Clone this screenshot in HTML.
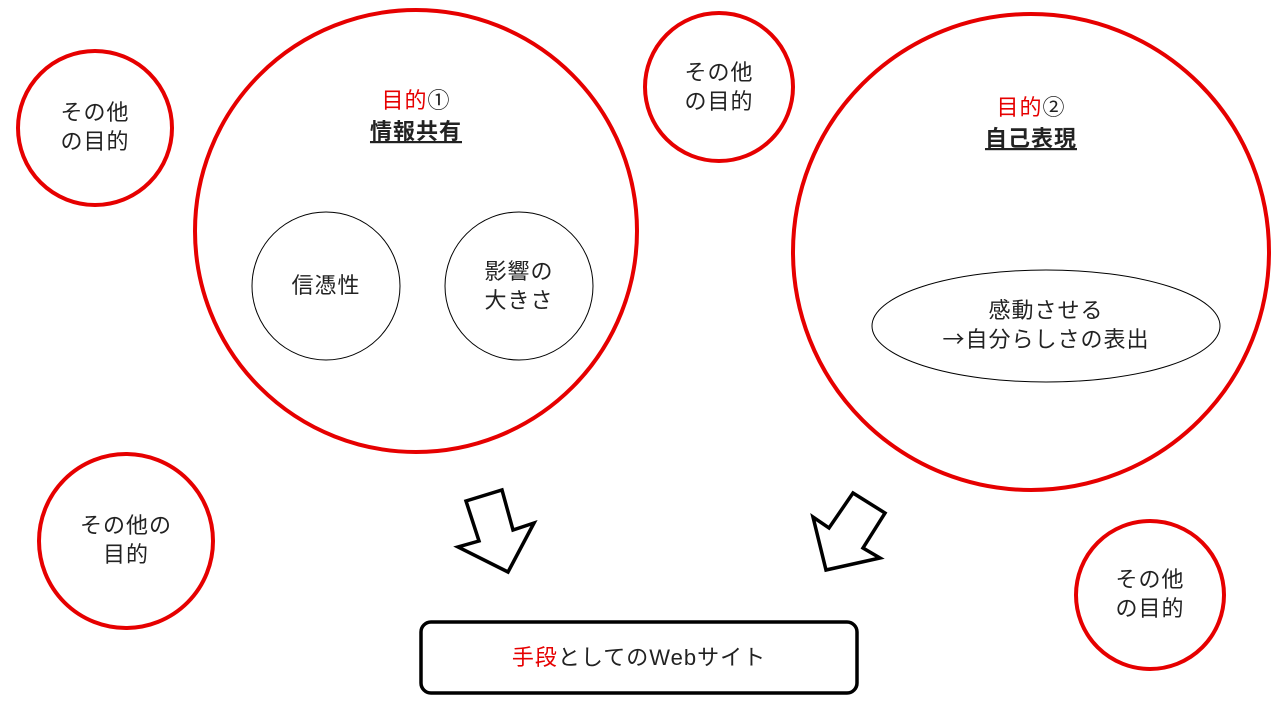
<!DOCTYPE html>
<html><head><meta charset="utf-8"><style>
body{margin:0;width:1280px;height:720px;background:#fff;overflow:hidden}
text{font-family:"Liberation Sans","Noto Sans CJK JP",sans-serif;font-size:22px;fill:#222;letter-spacing:1px}
</style></head><body>
<svg width="1280" height="720" xmlns="http://www.w3.org/2000/svg">
<g fill="none" stroke="#e60000" stroke-width="4">
<circle cx="416" cy="231" r="221"/>
<circle cx="1031" cy="252" r="238"/>
<circle cx="95" cy="128" r="77"/>
<circle cx="719" cy="87" r="74"/>
<circle cx="126" cy="541" r="87"/>
<circle cx="1150" cy="595" r="74"/>
</g>
<g fill="none" stroke="#000" stroke-width="1">
<circle cx="326" cy="286" r="74"/>
<circle cx="519" cy="286" r="74"/>
<ellipse cx="1046" cy="326" rx="174" ry="56"/>
</g>
<g fill="#fff" stroke="#000" stroke-width="3.5" stroke-linejoin="miter">
<polygon points="466,501 502,490 513,530 534,523 508,572 458,547 479,541"/>
<polygon points="853,493 885,513 863,548 880,558 826,570 813,517 829,528"/>
</g>
<rect x="421" y="622" width="436" height="71" rx="10" fill="#fff" stroke="#000" stroke-width="3.5"/>
<g text-anchor="middle">
<text x="416" y="108"><tspan fill="#e60000">目的</tspan>①</text>
<text x="416" y="139" font-weight="bold" text-decoration="underline">情報共有</text>
<text x="1031" y="115"><tspan fill="#e60000">目的</tspan>②</text>
<text x="1031" y="146" font-weight="bold" text-decoration="underline">自己表現</text>
<text x="326" y="293">信憑性</text>
<text x="519" y="279">影響の</text>
<text x="519" y="308">大きさ</text>
<text x="1046" y="318">感動させる</text>
<text x="1046" y="347"><tspan font-family="Noto Sans CJK JP">→</tspan>自分らしさの表出</text>
<text x="95" y="120">その他</text>
<text x="95" y="149">の目的</text>
<text x="719" y="80">その他</text>
<text x="719" y="109">の目的</text>
<text x="126" y="533">その他の</text>
<text x="126" y="562">目的</text>
<text x="1150" y="587">その他</text>
<text x="1150" y="616">の目的</text>
<text x="639" y="665"><tspan fill="#e60000">手段</tspan>としてのWebサイト</text>
</g>
</svg>
</body></html>
